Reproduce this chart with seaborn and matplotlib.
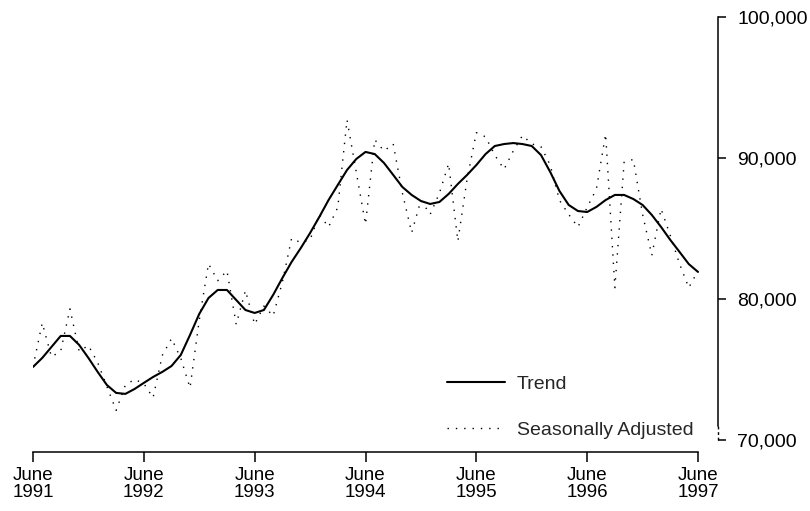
import matplotlib
matplotlib.use('Agg')
import matplotlib.pyplot as plt
import seaborn as sns
import numpy as np
import pandas as pd
from matplotlib.lines import Line2D

# Monthly values, June 1991 (month 0) to June 1997 (month 72)
trend = [
    75180, 75820, 76600, 77380, 77380, 76740, 75820, 74830, 73900, 73340,
    73270, 73620, 74050, 74470, 74830, 75250, 76030, 77450, 78940, 80070,
    80640, 80640, 79930, 79220, 79010, 79220, 80290, 81490, 82630, 83620,
    84680, 85820, 87020, 88090, 89150, 89930, 90430, 90280, 89650, 88800,
    87940, 87380, 86950, 86740, 86880, 87450, 88160, 88800, 89500, 90280,
    90850, 90990, 91060, 90990, 90850, 90210, 89010, 87660, 86670, 86240,
    86170, 86530, 87020, 87380, 87380, 87090, 86670, 85960, 85110, 84190,
    83340, 82480, 81920,
]
seasonally_adjusted = [
    75200, 78300, 75900, 76300, 79300, 76300, 76700, 75500, 73800, 72100,
    73900, 74300, 74000, 73000, 76000, 77200, 75800, 73700, 78500, 82500,
    81300, 82000, 78200, 80600, 78200, 79500, 78800, 81200, 84300, 84000,
    84200, 86000, 85100, 86500, 92700, 89000, 85300, 91300, 90500, 91000,
    87500, 84700, 87000, 86000, 87500, 89600, 84100, 88500, 91800, 91500,
    90200, 89200, 90500, 91600, 91000, 90800, 89500, 87000, 86000, 85100,
    86500, 87800, 91700, 80800, 89700, 89900, 86000, 83100, 86400, 84500,
    82500, 80800, 82000,
]
tick_months = [0, 12, 24, 36, 48, 60, 72]
tick_labels = ['June\n1991', 'June\n1992', 'June\n1993', 'June\n1994',
               'June\n1995', 'June\n1996', 'June\n1997']
y_ticks = [70000, 80000, 90000, 100000]

months = np.arange(len(trend))
df = pd.DataFrame({'month': months, 'Trend': trend,
                   'Seasonally Adjusted': seasonally_adjusted})

sns.set_style('white')
plt.rcParams['font.family'] = ['Liberation Sans', 'DejaVu Sans']

W, H = 810, 511
fig = plt.figure(figsize=(W / 100, H / 100), dpi=100)
# axes spans from x=33 px (June 1991) to the right spine at x=718 px
px_per_month = (698 - 33) / 72
x_right = 72 + (718 - 698) / px_per_month
ax = fig.add_axes([33 / W, 1 - 452 / H, (718 - 33) / W, (452 - 17) / H])

dotted = (0, (1, 5))
sns.lineplot(data=df, x='month', y='Seasonally Adjusted', ax=ax,
             color='black', lw=1.0, linestyle=dotted)
sns.lineplot(data=df, x='month', y='Trend', ax=ax, color='black', lw=1.5)

ax.set_xlim(0, x_right)
ylow = 70000 - (452 - 440) * 10000 / 141
ax.set_ylim(ylow, 100000)

ax.set_xlabel('')
ax.set_ylabel('')
ax.set_xticks(tick_months)
ax.set_xticklabels(tick_labels)
for lab in ax.get_xticklabels():
    lab.set_linespacing(1.0)
ax.yaxis.tick_right()
ax.set_yticks(y_ticks)
ax.set_yticklabels([f'{v:,}' for v in y_ticks])

for s in ['top', 'left']:
    ax.spines[s].set_visible(False)
ax.spines['bottom'].set_bounds(0, 72)
ax.spines['right'].set_bounds(71000, 100000)
for s in ['bottom', 'right']:
    ax.spines[s].set_linewidth(1.1)
    ax.spines[s].set_color('black')
# broken bit of the value axis near the bottom
ax.plot([x_right, x_right], [70000, 71000], color='black', lw=1.0,
        linestyle=(0, (2, 2)), clip_on=False)

ax.tick_params(axis='x', direction='out', length=7, width=1.1, pad=4,
               labelsize=13.5, colors='black', bottom=True)
ax.tick_params(axis='y', direction='out', length=6, width=1.1, pad=8,
               labelsize=14, colors='black', right=True, left=False)

handles = [Line2D([0], [0], color='black', lw=1.5),
           Line2D([0], [0], color='black', lw=1.0, linestyle=dotted)]
ax.legend(handles, ['Trend', 'Seasonally Adjusted'], loc='center left',
          bbox_to_anchor=(447 / W, 1 - 407 / H), bbox_transform=fig.transFigure,
          frameon=False, fontsize=14, handlelength=3.0, handletextpad=0.6,
          labelspacing=1.45, borderpad=0, borderaxespad=0)

fig.savefig('out.png', dpi=100)
